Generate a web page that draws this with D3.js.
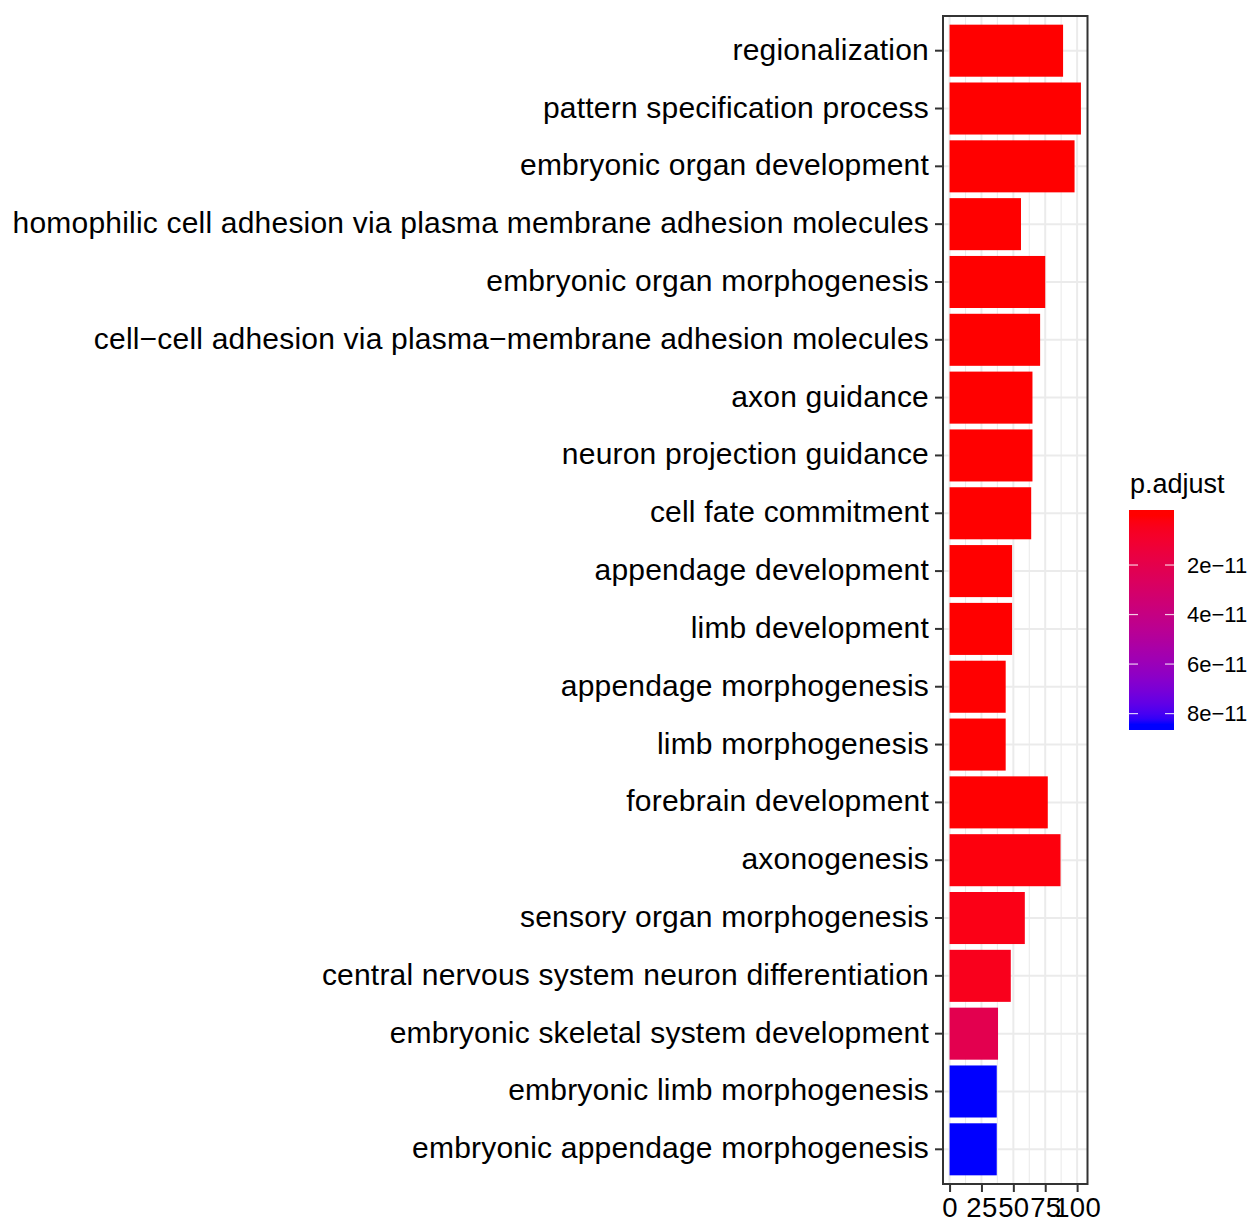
<!DOCTYPE html>
<html>
<head>
<meta charset="utf-8">
<script src="https://cdn.jsdelivr.net/npm/d3@7/dist/d3.min.js"></script>
<style>
  html, body { margin: 0; padding: 0; background: #fff; }
  svg { display: block; font-family: "Liberation Sans", Arial, Helvetica, sans-serif; }
</style>
</head>
<body>
<svg id="chart" width="1253" height="1220"></svg>
<script>
// GO enrichment terms, top to bottom
const terms = [
  "regionalization",
  "pattern specification process",
  "embryonic organ development",
  "homophilic cell adhesion via plasma membrane adhesion molecules",
  "embryonic organ morphogenesis",
  "cell\u2212cell adhesion via plasma\u2212membrane adhesion molecules",
  "axon guidance",
  "neuron projection guidance",
  "cell fate commitment",
  "appendage development",
  "limb development",
  "appendage morphogenesis",
  "limb morphogenesis",
  "forebrain development",
  "axonogenesis",
  "sensory organ morphogenesis",
  "central nervous system neuron differentiation",
  "embryonic skeletal system development",
  "embryonic limb morphogenesis",
  "embryonic appendage morphogenesis"
];

// gene counts per term
const counts = [89, 103, 98, 56, 75, 71, 65, 65, 64, 49, 49, 44, 44, 77, 87, 59, 48, 38, 37, 37];

// adjusted p-values per term
const padj = [
  2.0e-16, 2.0e-16, 4.0e-16, 1.2e-15, 2.5e-15, 4.0e-15, 1.0e-14, 1.0e-14, 2.0e-14,
  6.0e-14, 6.0e-14, 1.5e-13, 1.5e-13, 3.0e-13, 1.8e-12, 3.4e-12, 4.6e-12,
  2.1e-11, 8.44e-11, 8.44e-11
];

const xTicks = [0, 25, 50, 75, 100];
const xMinor = [12.5, 37.5, 62.5, 87.5];
const legendTicks = [2e-11, 4e-11, 6e-11, 8e-11];
const legendLabels = ["2e\u221211", "4e\u221211", "6e\u221211", "8e\u221211"];

const svg = d3.select("#chart");

const panel = { left: 943, right: 1087.5, top: 16, bottom: 1184 };

const maxCount = d3.max(counts);
const x = d3.scaleLinear()
  .domain([-0.05 * maxCount, 1.05 * maxCount])
  .range([panel.left, panel.right]);

const y = d3.scaleBand()
  .domain(terms)
  .range([panel.top, panel.bottom])
  .paddingInner(0.1)
  .paddingOuter(0.15);

const pExtent = d3.extent(padj);
const color = d3.scaleLinear()
  .domain(pExtent)
  .range(["red", "blue"])
  .interpolate(d3.interpolateLab);

// grid
const grid = svg.append("g");
grid.selectAll("line.minor").data(xMinor).join("line")
  .attr("x1", d => x(d)).attr("x2", d => x(d))
  .attr("y1", panel.top).attr("y2", panel.bottom)
  .attr("stroke", "#EBEBEB").attr("stroke-width", 1.1);
grid.selectAll("line.majorx").data(xTicks).join("line")
  .attr("x1", d => x(d)).attr("x2", d => x(d))
  .attr("y1", panel.top).attr("y2", panel.bottom)
  .attr("stroke", "#EBEBEB").attr("stroke-width", 2);
grid.selectAll("line.majory").data(terms).join("line")
  .attr("x1", panel.left).attr("x2", panel.right)
  .attr("y1", d => y(d) + y.bandwidth() / 2).attr("y2", d => y(d) + y.bandwidth() / 2)
  .attr("stroke", "#EBEBEB").attr("stroke-width", 2);

// bars
svg.append("g").selectAll("rect").data(terms).join("rect")
  .attr("x", x(0))
  .attr("y", d => y(d))
  .attr("width", (d, i) => x(counts[i]) - x(0))
  .attr("height", y.bandwidth())
  .attr("fill", (d, i) => color(padj[i]));

// panel border
svg.append("rect")
  .attr("x", panel.left).attr("y", panel.top)
  .attr("width", panel.right - panel.left).attr("height", panel.bottom - panel.top)
  .attr("fill", "none").attr("stroke", "#333333").attr("stroke-width", 2);

// y axis
const yAxis = d3.axisLeft(y).tickSize(7).tickPadding(6);
const gy = svg.append("g").attr("transform", `translate(${panel.left - 1},0)`).call(yAxis);
gy.select(".domain").remove();
gy.selectAll(".tick line").attr("stroke", "#333333").attr("stroke-width", 2);
gy.selectAll(".tick text")
  .attr("fill", "#000")
  .attr("dy", "0.3em")
  .style("font-size", "30px")
  .style("letter-spacing", "0.2px")
  .style("font-family", '"Liberation Sans", Arial, sans-serif');

// x axis
const xAxis = d3.axisBottom(x).tickValues(xTicks).tickSize(7).tickPadding(5);
const gx = svg.append("g").attr("transform", `translate(0,${panel.bottom + 1})`).call(xAxis);
gx.select(".domain").remove();
gx.selectAll(".tick line").attr("stroke", "#333333").attr("stroke-width", 2);
gx.selectAll(".tick text")
  .attr("fill", "#000")
  .style("font-size", "27.5px")
  .style("letter-spacing", "0.3px")
  .style("font-family", '"Liberation Sans", Arial, sans-serif');

// colour legend
const leg = { x: 1129, w: 45, top: 510, bottom: 730 };
const half = (leg.bottom - leg.top) / 40;
const legY = d3.scaleLinear().domain(pExtent).range([leg.top + half, leg.bottom - half]);

const defs = svg.append("defs");
const grad = defs.append("linearGradient")
  .attr("id", "padj-grad").attr("x1", 0).attr("x2", 0).attr("y1", 0).attr("y2", 1);
const nStops = 40;
for (let k = 0; k <= nStops; k++) {
  const py = leg.top + (leg.bottom - leg.top) * k / nStops;
  const v = Math.max(pExtent[0], Math.min(pExtent[1], legY.invert(py)));
  grad.append("stop").attr("offset", k / nStops).attr("stop-color", color(v));
}

svg.append("text")
  .attr("x", 1130).attr("y", 493)
  .style("font-size", "27px")
  .attr("fill", "#000")
  .text("p.adjust");

svg.append("rect")
  .attr("x", leg.x).attr("y", leg.top)
  .attr("width", leg.w).attr("height", leg.bottom - leg.top)
  .attr("fill", "url(#padj-grad)");

const lt = svg.append("g");
legendTicks.forEach((t, i) => {
  const ty = legY(t);
  lt.append("line").attr("x1", leg.x).attr("x2", leg.x + 9).attr("y1", ty).attr("y2", ty)
    .attr("stroke", "#fff").attr("stroke-width", 1.2).attr("stroke-opacity", 0.8);
  lt.append("line").attr("x1", leg.x + leg.w - 9).attr("x2", leg.x + leg.w).attr("y1", ty).attr("y2", ty)
    .attr("stroke", "#fff").attr("stroke-width", 1.2).attr("stroke-opacity", 0.8);
  lt.append("text")
    .attr("x", 1187).attr("y", ty).attr("dy", "0.35em")
    .style("font-size", "22px").attr("fill", "#000")
    .text(legendLabels[i]);
});
</script>
</body>
</html>
